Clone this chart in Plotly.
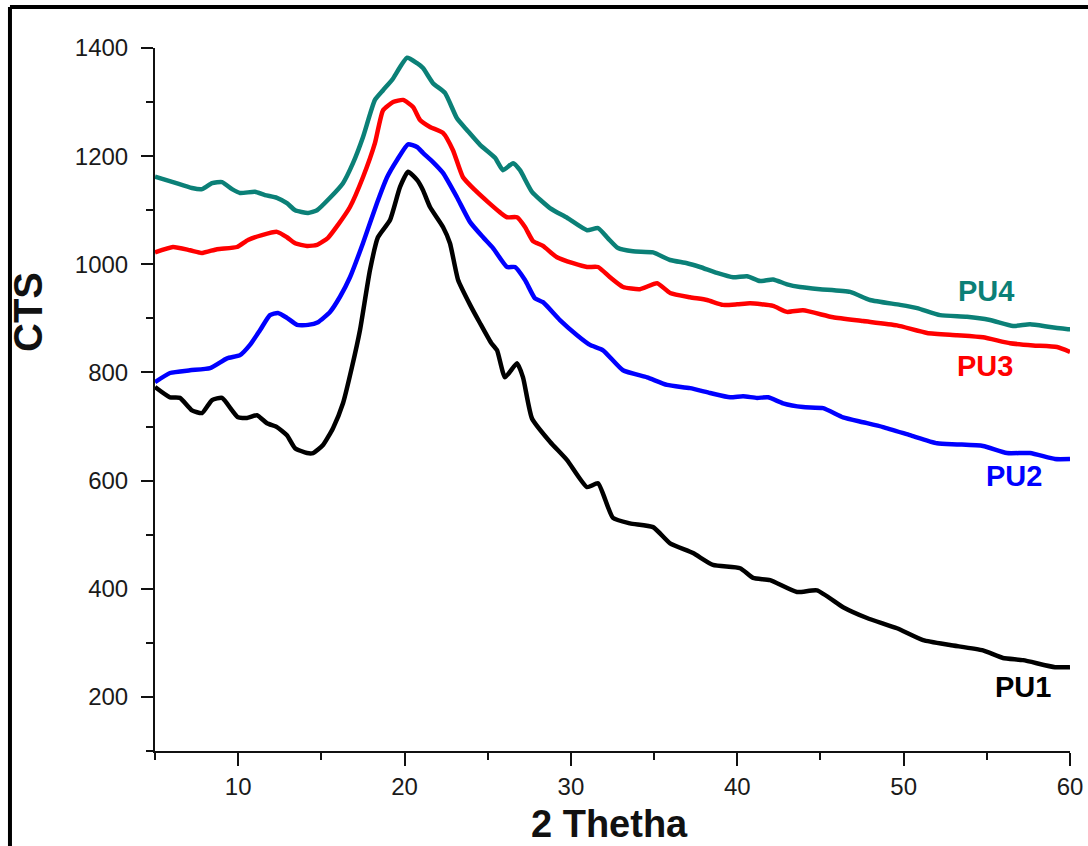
import plotly.graph_objects as go

# ---- data ----
pu4_x = [5.00, 6.08, 7.22, 7.83, 8.43, 9.03, 9.63, 10.11, 11.01, 11.61, 12.33, 12.93, 13.42, 14.20, 14.74,
         15.52, 16.30, 16.90, 17.50, 18.22, 18.71, 19.25, 20.15, 20.75, 21.11, 21.71, 22.43, 23.15, 23.76,
         24.54, 25.44, 25.92, 26.52, 26.94, 27.66, 28.74, 29.77, 30.97, 31.63, 32.23, 32.83, 33.73, 34.94,
         35.96, 36.98, 37.76, 38.78, 39.75, 40.59, 41.37, 42.15, 42.99, 43.77, 44.97, 46.78, 47.98, 49.78,
         50.81, 52.19, 53.81, 55.19, 56.58, 57.60, 58.80, 59.88, 60.00]
pu4_y = [1162, 1152, 1141, 1139, 1150, 1152, 1139, 1132, 1134, 1128, 1123, 1113, 1100, 1095, 1100,
         1123, 1150, 1187, 1235, 1304, 1322, 1341, 1382, 1372, 1363, 1335, 1317, 1270, 1248,
         1221, 1197, 1174, 1187, 1174, 1134, 1104, 1086, 1063, 1067, 1048, 1030, 1024, 1022,
         1008, 1002, 995, 984, 976, 978, 969, 972, 963, 958, 954, 949, 934, 925,
         919, 906, 903, 897, 886, 889, 884, 880, 880]

pu3_x = [5.00, 6.08, 7.10, 7.83, 8.73, 9.93, 10.59, 11.43, 12.33, 12.93, 13.42, 14.14, 14.74, 15.40,
         16.00, 16.72, 17.50, 18.22, 18.71, 19.31, 19.91, 20.51, 20.93, 21.53, 22.31, 22.91, 23.51,
         24.24, 25.02, 25.74, 26.16, 26.76, 27.24, 27.72, 28.32, 29.16, 30.13, 30.97, 31.63, 32.35,
         33.13, 34.15, 35.18, 35.96, 37.16, 38.18, 39.14, 39.99, 40.77, 42.15, 42.99, 43.95, 45.76,
         47.56, 49.60, 51.41, 53.21, 54.77, 56.40, 57.78, 59.22, 60.00]
pu3_y = [1022, 1032, 1026, 1021, 1028, 1032, 1045, 1054, 1060, 1050, 1039, 1034, 1036, 1049,
         1073, 1106, 1161, 1224, 1285, 1300, 1304, 1291, 1267, 1254, 1243, 1211, 1161,
         1137, 1115, 1096, 1087, 1087, 1069, 1043, 1034, 1013, 1002, 995, 995, 976,
         958, 954, 965, 947, 939, 934, 925, 926, 928, 923, 912, 915, 902,
         895, 887, 873, 869, 865, 854, 850, 847, 838]

pu2_x = [5.00, 5.90, 7.10, 8.31, 9.33, 10.11, 10.71, 11.31, 11.91, 12.39, 12.93, 13.54, 14.20, 14.80,
         15.52, 16.12, 16.72, 17.50, 18.34, 18.95, 19.55, 20.21, 20.75, 21.11, 21.71, 22.31, 23.15,
         23.94, 24.72, 25.32, 26.16, 26.64, 27.24, 27.84, 28.32, 29.34, 30.37, 31.15, 31.93, 33.13,
         34.58, 35.78, 37.16, 38.37, 39.57, 40.35, 41.19, 41.85, 42.75, 43.95, 45.16, 46.36, 47.56,
         48.76, 50.38, 52.01, 53.21, 54.77, 56.21, 57.60, 59.10, 60.00]
pu2_y = [782, 799, 804, 808, 826, 832, 851, 878, 906, 910, 901, 888, 888, 893,
         912, 940, 976, 1039, 1113, 1161, 1193, 1222, 1217, 1206, 1189, 1169, 1124,
         1078, 1050, 1030, 995, 995, 971, 937, 930, 897, 869, 851, 841, 804,
         791, 777, 771, 762, 754, 756, 753, 754, 743, 736, 734, 717, 708,
         699, 684, 669, 667, 664, 651, 651, 640, 640]

pu1_x = [5.00, 5.90, 6.50, 7.22, 7.83, 8.43, 9.03, 9.63, 9.99, 10.53, 11.13, 11.73, 12.33, 12.93,
         13.42, 14.14, 14.50, 15.10, 15.70, 16.30, 16.84, 17.32, 17.92, 18.40, 19.13, 19.73, 20.21,
         20.75, 21.11, 21.53, 22.31, 22.73, 23.22, 23.94, 24.54, 25.20, 25.56, 26.04, 26.76, 27.12,
         27.66, 28.74, 29.77, 30.97, 31.63, 32.53, 33.55, 34.94, 35.96, 37.34, 38.54, 40.17, 40.95,
         41.97, 43.59, 44.79, 46.36, 47.80, 49.60, 51.17, 52.79, 54.77, 55.97, 57.18, 59.10, 60.00]
pu1_y = [773, 754, 753, 730, 725, 749, 753, 730, 717, 716, 721, 706, 699, 684,
         660, 651, 651, 666, 697, 743, 810, 878, 989, 1050, 1082, 1143, 1171,
         1156, 1137, 1106, 1069, 1039, 971, 925, 891, 855, 841, 791, 817, 791,
         715, 672, 638, 588, 595, 531, 521, 514, 484, 466, 444, 438, 420,
         416, 394, 397, 366, 346, 327, 305, 296, 286, 272, 268, 255, 255]

series = [
    ("PU1", pu1_x, pu1_y, "#000000"),
    ("PU2", pu2_x, pu2_y, "#0000ff"),
    ("PU3", pu3_x, pu3_y, "#ff0000"),
    ("PU4", pu4_x, pu4_y, "#0b8077"),
]
label_pos = {"PU4": (54.95, 950), "PU3": (54.9, 812), "PU2": (56.63, 608), "PU1": (57.18, 218)}

FONT = "Liberation Sans, Arial, sans-serif"

fig = go.Figure()
for name, xs, ys, col in series:
    fig.add_trace(go.Scatter(x=xs, y=ys, mode="lines", name=name,
                             line=dict(color=col, width=4.5, shape="spline", smoothing=0.5),
                             showlegend=False))
    lx, ly = label_pos[name]
    fig.add_annotation(x=lx, y=ly, xref="x", yref="y", text="<b>%s</b>" % name, showarrow=False,
                       font=dict(family=FONT, size=29, color=col), xanchor="center", yanchor="middle")

fig.add_annotation(x=0.497, y=-0.1045, xref="paper", yref="paper", text="<b>2 Thetha</b>",
                   showarrow=False, font=dict(family=FONT, size=38, color="#111111"),
                   xanchor="center", yanchor="middle")
fig.add_annotation(x=-0.1388, y=0.6245, xref="paper", yref="paper", text="<b>CTS</b>",
                   showarrow=False, textangle=-90, font=dict(family=FONT, size=40, color="#111111"),
                   xanchor="center", yanchor="middle")

# outer frame (top and left edges visible)
fig.add_shape(type="line", xref="paper", yref="paper", x0=-0.1585, x1=-0.1585, y0=-0.3, y1=1.0583,
              line=dict(color="black", width=4))
fig.add_shape(type="line", xref="paper", yref="paper", x0=-0.1585, x1=1.2, y0=1.0583, y1=1.0583,
              line=dict(color="black", width=4))

axis_common = dict(showgrid=False, zeroline=False, showline=True, linecolor="#111111", linewidth=2,
                   ticks="outside", tickwidth=2, tickcolor="#111111", automargin=False,
                   tickfont=dict(family=FONT, size=24, color="#1a1a1a"))

fig.update_xaxes(range=[5, 60], tick0=0, dtick=10, ticklen=13,
                 minor=dict(ticks="outside", dtick=5, tick0=0, ticklen=7, tickwidth=2, tickcolor="#111111"),
                 **axis_common)
fig.update_yaxes(range=[100, 1400], tick0=0, dtick=200, ticklen=12, ticklabelstandoff=8,
                 minor=dict(ticks="outside", dtick=100, tick0=0, ticklen=7, tickwidth=2, tickcolor="#111111"),
                 **axis_common)

fig.update_layout(width=1088, height=846, margin=dict(l=155, r=18, t=48, b=95),
                  paper_bgcolor="white", plot_bgcolor="white")

fig.write_html("out.html")
